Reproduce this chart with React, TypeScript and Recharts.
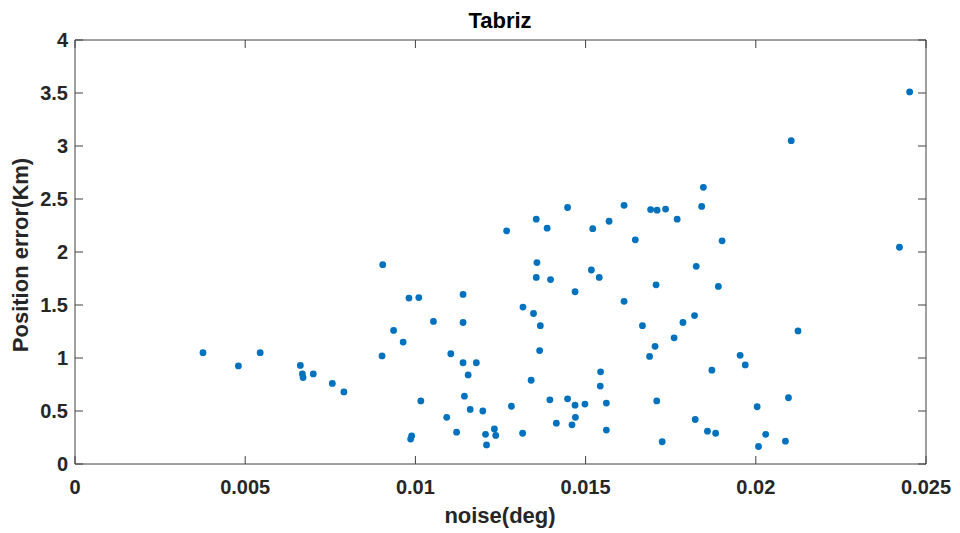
import { ScatterChart, Scatter, XAxis, YAxis, ReferenceArea, ReferenceLine } from "recharts";

const noise = [
  0.00376, 0.0048, 0.00544, 0.00662, 0.00668, 0.0067, 0.007, 0.00756, 0.0079, 0.00904,
  0.00902, 0.00936, 0.00964, 0.00981, 0.0101, 0.00989, 0.00986, 0.01016, 0.01053, 0.01104,
  0.01092, 0.01121, 0.0114, 0.0114, 0.0114, 0.01179, 0.01155, 0.01144, 0.01161, 0.01198,
  0.01206, 0.01209, 0.01232, 0.01236, 0.01268, 0.01282, 0.01315, 0.01316, 0.01347, 0.0134,
  0.01355, 0.01357, 0.01355, 0.01367, 0.01365, 0.01387, 0.01397, 0.01395, 0.01414, 0.01447,
  0.01447, 0.0146, 0.01469, 0.01469, 0.0147, 0.01498, 0.01517, 0.01521, 0.0154, 0.01544,
  0.01543, 0.01561, 0.01561, 0.01569, 0.01613, 0.01613, 0.01646, 0.01667, 0.01688, 0.01704,
  0.01691, 0.0171, 0.01735, 0.01707, 0.01709, 0.01725, 0.01769, 0.01846, 0.01841, 0.01901,
  0.01825, 0.0189, 0.0182, 0.01786, 0.0176, 0.01954, 0.01969, 0.01871, 0.02124, 0.02104,
  0.02452, 0.02422, 0.02096, 0.02004, 0.01822, 0.01858, 0.01882, 0.02029, 0.02008, 0.02087,
];

const posError = [
  1.05, 0.925, 1.05, 0.93, 0.85, 0.815, 0.85, 0.76, 0.68, 1.88,
  1.02, 1.26, 1.15, 1.565, 1.57, 0.265, 0.235, 0.595, 1.345, 1.04,
  0.44, 0.3, 1.6, 1.335, 0.955, 0.955, 0.84, 0.64, 0.515, 0.5,
  0.28, 0.18, 0.33, 0.27, 2.2, 0.545, 0.29, 1.48, 1.42, 0.79,
  2.31, 1.9, 1.76, 1.305, 1.07, 2.225, 1.74, 0.605, 0.385, 2.42,
  0.615, 0.37, 1.625, 0.555, 0.44, 0.565, 1.83, 2.22, 1.76, 0.87,
  0.735, 0.575, 0.32, 2.29, 2.44, 1.535, 2.115, 1.305, 1.015, 1.11,
  2.4, 2.395, 2.405, 1.69, 0.595, 0.21, 2.31, 2.61, 2.43, 2.105,
  1.865, 1.675, 1.4, 1.335, 1.19, 1.025, 0.935, 0.885, 1.255, 3.05,
  3.51, 2.045, 0.625, 0.54, 0.42, 0.31, 0.29, 0.28, 0.165, 0.215,
];

const xTicks = [0, 0.005, 0.01, 0.015, 0.02, 0.025];
const yTicks = [0, 0.5, 1, 1.5, 2, 2.5, 3, 3.5, 4];

const data = noise.map((n, i) => ({ noise: n, err: posError[i] }));

const FONT = "'Liberation Sans', Arial, sans-serif";
const AXIS = "#404040";
const TICK_LEN = 8;

const tickFont = { fontSize: 20, fontWeight: "bold", fontFamily: FONT, fill: "#262626" };

const BottomLabel = ({ x, y, payload }: any) => (
  <text x={x} y={y + 30} textAnchor="middle" {...tickFont}>
    {String(payload.value)}
  </text>
);

const LeftLabel = ({ x, y, payload }: any) => (
  <text x={x - 7} y={y + 7} textAnchor="end" {...tickFont}>
    {String(payload.value)}
  </text>
);

// matlab style: short marks pointing into the box, on both ends of each grid position
const VTickMarks = (p: any) => (
  <g>
    <line x1={p.x1} x2={p.x1} y1={p.y1} y2={p.y1 + (p.y2 > p.y1 ? TICK_LEN : -TICK_LEN)} stroke={AXIS} />
    <line x1={p.x2} x2={p.x2} y1={p.y2} y2={p.y2 + (p.y2 > p.y1 ? -TICK_LEN : TICK_LEN)} stroke={AXIS} />
  </g>
);

const HTickMarks = (p: any) => (
  <g>
    <line x1={p.x1} x2={p.x1 + (p.x2 > p.x1 ? TICK_LEN : -TICK_LEN)} y1={p.y1} y2={p.y1} stroke={AXIS} />
    <line x1={p.x2} x2={p.x2 + (p.x2 > p.x1 ? -TICK_LEN : TICK_LEN)} y1={p.y2} y2={p.y2} stroke={AXIS} />
  </g>
);

export default function App() {
  return (
    <div style={{ position: "absolute", left: 0, top: 0, width: 960, height: 533, background: "#fff" }}>
      <ScatterChart width={960} height={533} margin={{ top: 40, right: 34, bottom: 0, left: 0 }}>
        <XAxis
          type="number"
          dataKey="noise"
          domain={[0, 0.025]}
          ticks={xTicks}
          allowDataOverflow
          height={69}
          tickSize={0}
          tickMargin={0}
          tickLine={false}
          axisLine={false}
          tick={BottomLabel}
          interval={0}
        />
        <YAxis
          type="number"
          dataKey="err"
          domain={[0, 4]}
          ticks={yTicks}
          allowDataOverflow
          width={75}
          tickSize={0}
          tickMargin={0}
          tickLine={false}
          axisLine={false}
          tick={LeftLabel}
          interval={0}
        />
        <ReferenceArea x1={0} x2={0.025} y1={0} y2={4} fill="none" stroke={AXIS} strokeWidth={1} ifOverflow="visible" />
        {xTicks.map((t) => (
          <ReferenceLine key={"x" + t} x={t} shape={VTickMarks} ifOverflow="visible" />
        ))}
        {yTicks.map((t) => (
          <ReferenceLine key={"y" + t} y={t} shape={HTickMarks} ifOverflow="visible" />
        ))}
        <Scatter
          data={data}
          fill="#0072BD"
          isAnimationActive={false}
          shape={(p: any) => <circle cx={p.cx} cy={p.cy} r={3.4} fill="#0072BD" />}
        />
      </ScatterChart>
      <svg width={960} height={533} style={{ position: "absolute", left: 0, top: 0, pointerEvents: "none" }}>
        <text x={500} y={28} textAnchor="middle" fontSize={22} fontWeight="bold" fontFamily={FONT} fill="#000">
          Tabriz
        </text>
        <text x={500} y={523} textAnchor="middle" fontSize={22} fontWeight="bold" fontFamily={FONT} fill="#262626">
          noise(deg)
        </text>
        <text
          x={0}
          y={0}
          transform="translate(28,255) rotate(-90)"
          textAnchor="middle"
          fontSize={22}
          fontWeight="bold"
          fontFamily={FONT}
          fill="#262626"
        >
          Position error(Km)
        </text>
      </svg>
    </div>
  );
}
